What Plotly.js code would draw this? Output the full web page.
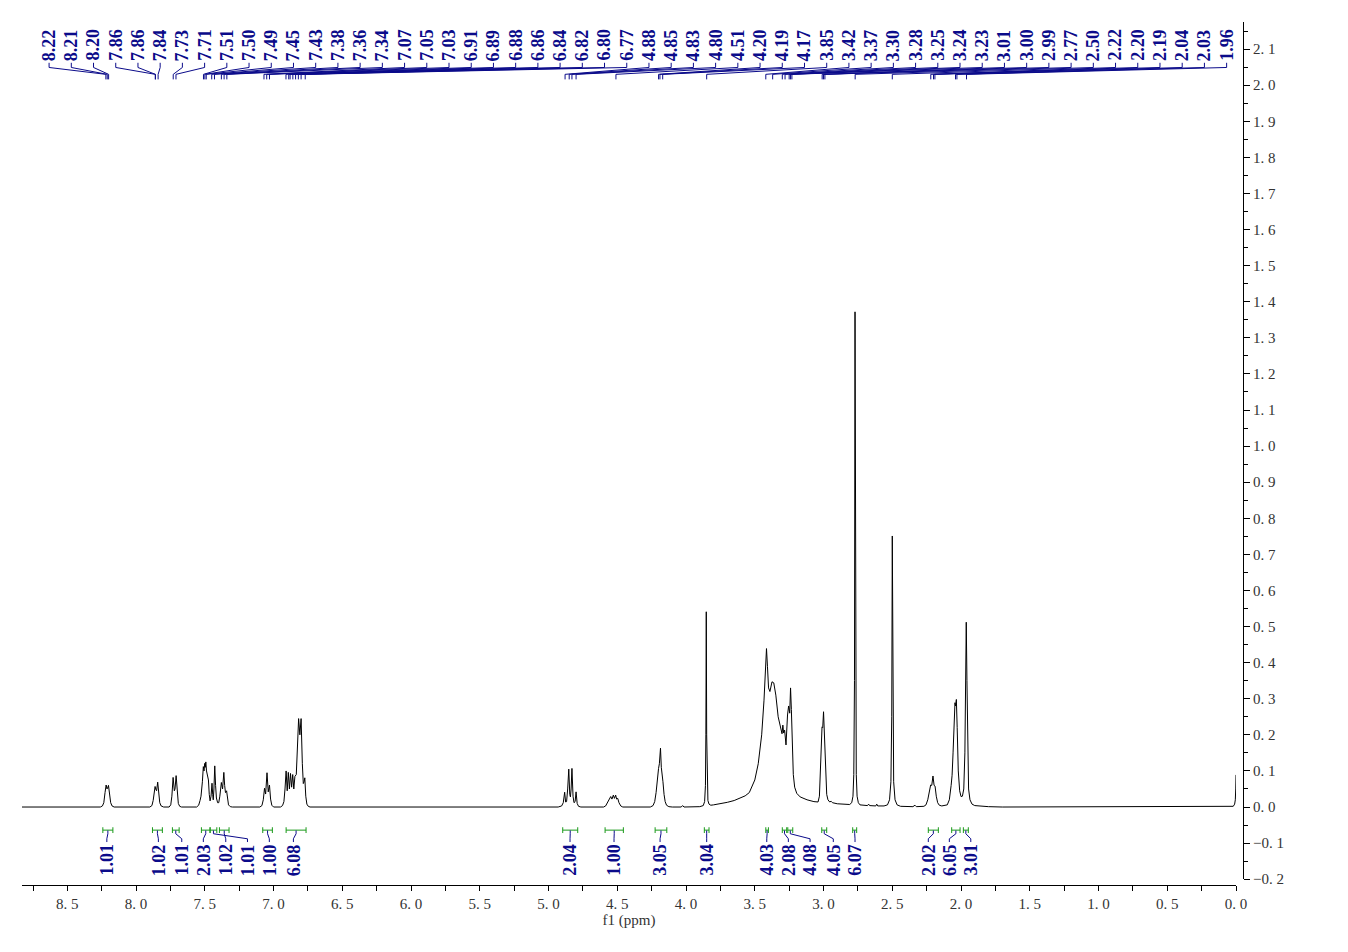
<!DOCTYPE html>
<html>
<head>
<meta charset="utf-8">
<script src="https://cdn.plot.ly/plotly-3.0.1.min.js"></script>
<style>html,body{margin:0;padding:0;background:#fff;}#chart{width:1348px;height:952px;}</style>
</head>
<body>
<div id="chart"></div>
<script>
// ---------- spectrum data: [chemical shift (ppm), intensity] ----------
const aromaticRegion = [
  [8.83,0],[8.26,0],[8.245,0.003],[8.235,0.012],[8.226,0.04],[8.218,0.061],[8.212,0.05],[8.208,0.052],[8.201,0.060],[8.193,0.038],[8.185,0.012],[8.175,0.003],[8.16,0],
  [7.90,0],[7.885,0.004],[7.876,0.018],[7.868,0.045],[7.862,0.057],[7.856,0.048],[7.851,0.045],[7.843,0.069],[7.836,0.04],[7.828,0.012],[7.818,0.003],[7.80,0],
  [7.76,0],[7.748,0.006],[7.740,0.03],[7.731,0.082],[7.722,0.045],[7.717,0.05],[7.709,0.087],[7.701,0.04],[7.693,0.01],[7.683,0.002],[7.67,0],
  [7.56,0],[7.545,0.005],[7.535,0.018],[7.528,0.03],[7.518,0.07],[7.511,0.112],[7.506,0.10],[7.501,0.121],[7.497,0.11],[7.493,0.125],[7.488,0.10],[7.480,0.079],[7.474,0.075],[7.468,0.035],[7.462,0.017],[7.455,0.03],[7.448,0.066],[7.443,0.035],[7.439,0.02],[7.434,0.05],[7.428,0.114],[7.422,0.06],[7.416,0.025],[7.407,0.012],[7.399,0.012],[7.391,0.03],[7.385,0.055],[7.380,0.068],[7.371,0.05],[7.366,0.07],[7.362,0.096],[7.356,0.06],[7.350,0.04],[7.346,0.042],[7.342,0.045],[7.336,0.025],[7.328,0.006],[7.315,0.001],[7.30,0],
  [7.10,0],[7.085,0.004],[7.075,0.02],[7.066,0.052],[7.058,0.036],[7.048,0.095],[7.039,0.042],[7.030,0.061],[7.022,0.022],[7.013,0.005],[7.00,0],
  [6.95,0],[6.935,0.004],[6.925,0.015],[6.917,0.05],[6.909,0.10],[6.901,0.045],[6.893,0.096],[6.885,0.05],[6.877,0.093],[6.869,0.055],[6.861,0.09],[6.853,0.05],[6.845,0.085],[6.835,0.09],[6.827,0.16],[6.818,0.245],[6.809,0.2],[6.800,0.245],[6.791,0.12],[6.784,0.065],[6.778,0.07],[6.773,0.081],[6.766,0.03],[6.758,0.008],[6.748,0.002],[6.735,0]
];
const midRegion = [
  [4.93,0],[4.905,0.003],[4.893,0.012],[4.883,0.041],[4.876,0.014],[4.869,0.015],[4.861,0.05],[4.853,0.105],[4.846,0.035],[4.841,0.028],[4.836,0.05],[4.830,0.107],[4.822,0.03],[4.815,0.012],[4.807,0.015],[4.800,0.042],[4.792,0.01],[4.782,0.002],[4.765,0],
  [4.60,0],[4.585,0.003],[4.570,0.012],[4.558,0.022],[4.548,0.029],[4.539,0.022],[4.529,0.033],[4.521,0.024],[4.512,0.033],[4.505,0.022],[4.497,0.024],[4.488,0.012],[4.475,0.003],[4.46,0],
  [4.26,0],[4.24,0.004],[4.228,0.015],[4.218,0.04],[4.210,0.075],[4.204,0.100],[4.200,0.107],[4.194,0.12],[4.186,0.163],[4.180,0.11],[4.174,0.093],[4.168,0.07],[4.160,0.035],[4.152,0.015],[4.142,0.005],[4.125,0.001],[4.10,0],
  [4.035,0],[4.025,0.004],[4.015,0],
  [3.90,0.001],[3.875,0.004],[3.865,0.015],[3.859,0.06],[3.856,0.2],[3.853,0.541],[3.850,0.2],[3.847,0.06],[3.841,0.018],[3.833,0.008],[3.82,0.005],
  [3.80,0.006],[3.75,0.009],[3.70,0.013],[3.65,0.018],[3.60,0.025],[3.57,0.031],[3.54,0.04],[3.50,0.075],[3.475,0.12],[3.45,0.2],[3.433,0.296],[3.423,0.388],[3.415,0.439],[3.408,0.39],[3.400,0.33],[3.390,0.32],[3.375,0.347],[3.362,0.344],[3.347,0.31],[3.330,0.25],[3.313,0.218],[3.302,0.203],[3.296,0.227],[3.290,0.205],[3.283,0.213],[3.273,0.172],[3.262,0.255],[3.254,0.28],[3.246,0.26],[3.240,0.33],[3.234,0.27],[3.227,0.186],[3.220,0.09],[3.210,0.055],[3.195,0.038],[3.17,0.028],[3.12,0.02],[3.07,0.015],[3.04,0.014]
];
const aliphaticRegion = [
  [3.030,0.03],[3.022,0.10],[3.017,0.16],[3.011,0.222],[3.006,0.22],[3.000,0.264],[2.995,0.2],[2.990,0.176],[2.984,0.08],[2.977,0.035],[2.968,0.02],[2.955,0.014],[2.945,0.016],[2.935,0.012],[2.90,0.009],[2.85,0.007],[2.81,0.007],
  [2.795,0.012],[2.786,0.03],[2.780,0.09],[2.775,0.35],[2.771,1.372],[2.767,0.35],[2.762,0.09],[2.756,0.03],[2.747,0.012],[2.735,0.006],[2.70,0.004],[2.68,0.004],[2.672,0.008],[2.665,0.004],[2.62,0.003],[2.613,0.008],[2.606,0.003],[2.56,0.003],
  [2.535,0.006],[2.52,0.02],[2.510,0.07],[2.504,0.25],[2.500,0.751],[2.496,0.25],[2.490,0.07],[2.480,0.02],[2.465,0.006],[2.44,0.002],[2.35,0.001],[2.335,0.005],[2.325,0.001],[2.27,0.002],
  [2.255,0.006],[2.242,0.02],[2.232,0.045],[2.221,0.061],[2.213,0.06],[2.204,0.086],[2.196,0.06],[2.189,0.058],[2.180,0.03],[2.170,0.012],[2.158,0.005],[2.14,0.003],
  [2.10,0.006],[2.085,0.02],[2.072,0.06],[2.065,0.088],[2.058,0.15],[2.050,0.25],[2.044,0.289],[2.040,0.28],[2.034,0.298],[2.028,0.22],[2.020,0.1],[2.010,0.045],[2.000,0.029],[1.990,0.03],[1.980,0.05],[1.972,0.15],[1.967,0.35],[1.962,0.512],[1.957,0.35],[1.952,0.15],[1.945,0.05],[1.935,0.02],[1.92,0.008],[1.90,0.004],[1.85,0.002],[1.80,0.001],[1.70,0],
  [0.05,0],[0.02,0.002],[0.01,0.008],[0.005,0.02],[0.002,0.05],[0.0,0.089]
];

// ---------- peak picking labels ----------
const peakLabels = ['8.22','8.21','8.20','7.86','7.86','7.84','7.73','7.71','7.51','7.50','7.49','7.45','7.43','7.38','7.36','7.34',
  '7.07','7.05','7.03','6.91','6.89','6.88','6.86','6.84','6.82','6.80','6.77','4.88','4.85','4.83','4.80','4.51','4.20','4.19','4.17',
  '3.85','3.42','3.37','3.30','3.28','3.25','3.24','3.23','3.01','3.00','2.99','2.77','2.50','2.22','2.20','2.19','2.04','2.03','1.96'];

// ---------- integrals ----------
const integralValues = ['1.01','1.02','1.01','2.03','1.01','1.02','1.00','6.08','2.04','1.00','3.05','3.04','4.03','2.08','4.08','4.05','6.07','2.02','6.05','3.01'];
const integralFrom   = [8.242,7.881,7.736,7.525,7.462,7.394,7.079,6.909,4.897,4.589,4.225,3.867,3.420,3.300,3.260,3.013,2.788,2.238,2.068,1.983];
const integralTo     = [8.169,7.809,7.687,7.462,7.413,7.324,7.009,6.764,4.788,4.456,4.140,3.833,3.401,3.268,3.224,2.977,2.759,2.165,2.007,1.947];

// ---------- axis ticks ----------
const xTickVals = [0,0.5,1,1.5,2,2.5,3,3.5,4,4.5,5,5.5,6,6.5,7,7.5,8,8.5];
const xTickText = ['0. 0','0. 5','1. 0','1. 5','2. 0','2. 5','3. 0','3. 5','4. 0','4. 5','5. 0','5. 5','6. 0','6. 5','7. 0','7. 5','8. 0','8. 5'];
const yTickVals = [-0.2,-0.1,0,0.1,0.2,0.3,0.4,0.5,0.6,0.7,0.8,0.9,1.0,1.1,1.2,1.3,1.4,1.5,1.6,1.7,1.8,1.9,2.0,2.1];
const yTickText = ['\u22120. 2','\u22120. 1','0. 0','0. 1','0. 2','0. 3','0. 4','0. 5','0. 6','0. 7','0. 8','0. 9','1. 0','1. 1','1. 2','1. 3','1. 4','1. 5','1. 6','1. 7','1. 8','1. 9','2. 0','2. 1'];

// ---------- layout constants (positions, not data) ----------
const LABEL_FIRST = 8.633, LABEL_STEP = 0.16160;
const integralLabelAt = [8.213,7.838,7.668,7.511,7.190,7.348,7.031,6.856,4.844,4.524,4.189,3.850,3.413,3.256,3.098,2.929,2.771,2.238,2.085,1.929];
const NAVY = '#0b0b8a', GREEN = '#1a9a1a';

const allPts = aromaticRegion.concat(midRegion, aliphaticRegion);
const trace = {
  x: allPts.map(p => p[0]), y: allPts.map(p => p[1]),
  type: 'scatter', mode: 'lines', line: {color: '#000', width: 1}, hoverinfo: 'skip'
};

const shapes = [], annotations = [];
peakLabels.forEach((t, i) => {
  const xl = LABEL_FIRST - i * LABEL_STEP, p = parseFloat(t);
  annotations.push({x: xl, y: 2.064, xref: 'x', yref: 'y', text: '<b>' + t + '</b>', showarrow: false,
    textangle: -90, xanchor: 'center', yanchor: 'bottom', borderpad: 0,
    font: {family: 'Liberation Serif', size: 18, color: NAVY}});
  shapes.push({type: 'path', xref: 'x', yref: 'y', path: `M ${xl},2.062 L ${xl},2.049 L ${p},2.030 L ${p},2.016`,
    line: {color: NAVY, width: 1}});
});
integralValues.forEach((t, i) => {
  const a = integralFrom[i], b = integralTo[i], c = (a + b) / 2, l = integralLabelAt[i];
  shapes.push({type: 'path', xref: 'x', yref: 'y',
    path: `M ${a},-0.056 L ${a},-0.072 M ${a},-0.064 L ${b},-0.064 M ${b},-0.056 L ${b},-0.072`,
    line: {color: GREEN, width: 1}});
  shapes.push({type: 'path', xref: 'x', yref: 'y',
    path: `M ${c},-0.065 L ${c},-0.074 L ${l},-0.088 L ${l},-0.097`, line: {color: NAVY, width: 1}});
  annotations.push({x: l, y: -0.099, xref: 'x', yref: 'y', text: '<b>' + t + '</b>', showarrow: false,
    textangle: -90, xanchor: 'center', yanchor: 'top', borderpad: 0,
    font: {family: 'Liberation Serif', size: 18, color: NAVY}});
});

const layout = {
  width: 1348, height: 952,
  margin: {l: 22, r: 105, t: 22, b: 67},
  paper_bgcolor: '#fff', plot_bgcolor: '#fff',
  font: {family: 'Liberation Serif', size: 15, color: '#333'},
  showlegend: false,
  xaxis: {
    domain: [0, 0.99427], range: [8.83, 0], anchor: 'free', position: 0,
    showgrid: false, zeroline: false, showline: true, linecolor: '#000', linewidth: 1,
    tickmode: 'array', tickvals: xTickVals, ticktext: xTickText,
    ticks: 'outside', ticklen: 5, tickcolor: '#000', tickwidth: 1,
    minor: {tickmode: 'linear', tick0: 0, dtick: 0.25, ticks: 'outside', ticklen: 5, tickcolor: '#000', tickwidth: 1},
    tickfont: {family: 'Liberation Serif', size: 15, color: '#333'},
    title: {text: 'f1 (ppm)', font: {family: 'Liberation Serif', size: 15, color: '#333'}, standoff: 2}
  },
  yaxis: {
    domain: [0.0067, 1], range: [-0.2, 2.175], anchor: 'free', position: 1, side: 'right',
    showgrid: false, zeroline: false, showline: true, linecolor: '#000', linewidth: 1,
    tickmode: 'array', tickvals: yTickVals, ticktext: yTickText,
    ticks: 'outside', ticklen: 6, tickcolor: '#000', tickwidth: 1,
    minor: {tickmode: 'linear', tick0: 0.05, dtick: 0.1, ticks: 'outside', ticklen: 4, tickcolor: '#000', tickwidth: 1},
    tickfont: {family: 'Liberation Serif', size: 15, color: '#333'}
  },
  shapes: shapes,
  annotations: annotations
};

Plotly.newPlot('chart', [trace], layout, {displayModeBar: false, staticPlot: true});
</script>
</body>
</html>
